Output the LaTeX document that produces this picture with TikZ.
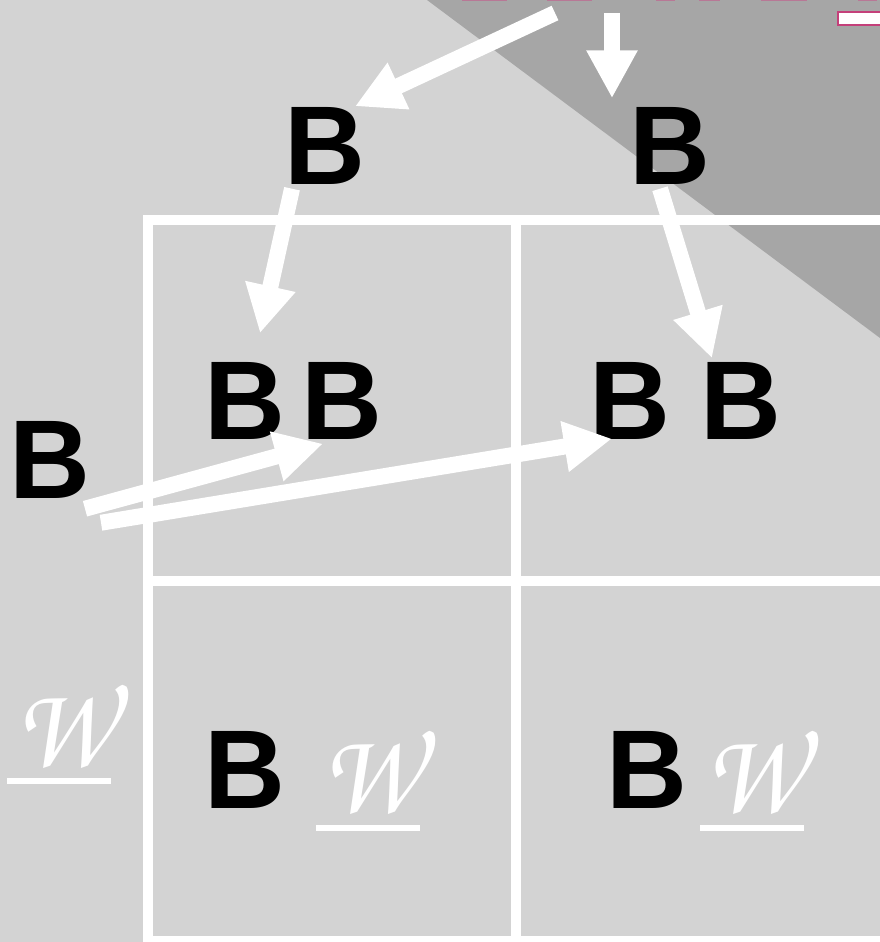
\documentclass[tikz,border=0pt]{standalone}
\usepackage{fontspec}
\setmainfont{Liberation Sans}
\newfontfamily\chorus[FakeStretch=0.92]{TeX Gyre Chorus}
\usetikzlibrary{arrows.meta,calc}
\definecolor{bglight}{RGB}{211,211,211}
\definecolor{bgdark}{RGB}{166,166,166}
\definecolor{mauve}{RGB}{196,64,122}
\definecolor{mauvefade}{RGB}{184,120,150}

\begin{document}
\begin{tikzpicture}[x=1pt,y=-1pt,
  % big black letters
  letter/.style={inner sep=0pt,text=black,
                 font=\fontsize{112}{112}\selectfont\bfseries},
  % white script W
  scrw/.style={inner sep=0pt,text=white,
               font=\fontsize{120}{120}\selectfont\chorus},
  grid/.style={draw=white,line width=10pt},
  uline/.style={draw=white,line width=6pt},
  arr/.style={-{Triangle[width=48pt,length=48pt]},draw=white,line width=16pt}
]
  \useasboundingbox (0,0) rectangle (880,942);
  \clip (0,0) rectangle (880,942);

  % ---- Background ----
  \fill[bglight] (0,0) rectangle (880,942);
  \fill[bgdark] (427,0) -- (880,0) -- (880,338) -- cycle;

  % ---- Clipped marks along the top edge ----
  \foreach \a/\b in {462/507,547/592,656/675,699/720,761/807,858/877}
    \fill[mauvefade] (\a,0) rectangle (\b,1.5);
  \draw[mauve,fill=white,line width=1.5pt] (838,12) rectangle (884,25);

  % ---- Grid ----
  \draw[grid] (148,215) -- (148,950);
  \draw[grid] (516,220) -- (516,950);
  \draw[grid] (143,220) -- (890,220);
  \draw[grid] (148,581) -- (890,581);
  \draw[grid] (148,941) -- (890,941);

  % ---- Letters ----
  \node[letter] (bTopL)   at (325,146) {B};
  \node[letter] (bTopR)   at (670,146) {B};
  \node[letter] (bCellA1) at (245,401) {B};
  \node[letter] (bCellA2) at (342,401) {B};
  \node[letter] (bCellB1) at (630,401) {B};
  \node[letter] (bCellB2) at (741,401) {B};
  \node[letter] (bLeft)   at (50,460)  {B};
  \node[letter] (bBotL)   at (245,770) {B};
  \node[letter] (bBotR)   at (647,770) {B};

  % ---- Script W with underlines ----
  \node[scrw] (wLeft) at (63,727) {W};
  \node[scrw] (wBotL) at (370,773) {W};
  \node[scrw] (wBotR) at (753,773) {W};
  \draw[uline] ($(wLeft.center)+(-56,54)$) -- +(104,0);
  \draw[uline] ($(wBotL.center)+(-54,55)$) -- +(104,0);
  \draw[uline] ($(wBotR.center)+(-53,55)$) -- +(104,0);

  % ---- Arrows ----
  \coordinate (srcA) at (555,13);
  \coordinate (srcB) at (612,13);
  \draw[arr] (srcA) -- ($(bTopL.north)+(30,-1)$);
  \draw[arr] (srcB) -- ($(bTopR.north)+(-58,-9)$);
  \draw[arr] ($(bTopL.south)+(-33,4)$) -- ($(bCellA1.north)+(15,-29)$);
  \draw[arr] ($(bTopR.south)+(-10,4)$) -- ($(bCellB2.north)+(-29,-4)$);
  \draw[arr] ($(bLeft.south)+(35,10)$) -- ($(bCellA2.south)+(-19,4)$);
  \draw[arr] ($(bLeft.south)+(51,24)$) -- ($(bCellB1.south)+(-18,-1)$);
\end{tikzpicture}
\end{document}
